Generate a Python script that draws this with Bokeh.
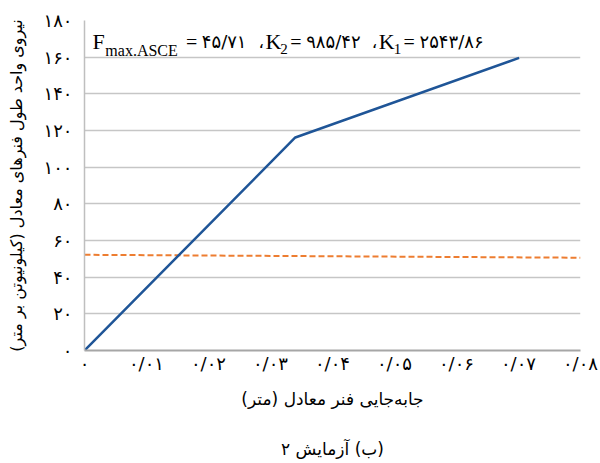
from bokeh.plotting import figure
from bokeh.models import FixedTicker, Label, Range1d
from bokeh.embed import file_html
from bokeh.resources import INLINE

# ---- data ----
disp = [0.0, 0.0340, 0.0701]          # equivalent spring displacement (m)
force = [0.0, 116.2, 159.6]           # force per unit length (kN/m)
fmax_disp = [0.0, 0.08]
fmax_force = [52.2, 50.6]

x_ticks = [0.0, 0.01, 0.02, 0.03, 0.04, 0.05, 0.06, 0.07, 0.08]
x_tick_labels = ["۰", "۰/۰۱", "۰/۰۲", "۰/۰۳", "۰/۰۴", "۰/۰۵", "۰/۰۶", "۰/۰۷", "۰/۰۸"]
y_ticks = [0, 20, 40, 60, 80, 100, 120, 140, 160, 180]
y_tick_labels = ["۰", "۲۰", "۴۰", "۶۰", "۸۰", "۱۰۰", "۱۲۰", "۱۴۰", "۱۶۰", "۱۸۰"]

RLE, PDF = "\u202B", "\u202C"
x_title = RLE + "جابه\u200cجایی فنر معادل (متر)" + PDF
y_title = RLE + "نیروی واحد طول فنرهای معادل (کیلونیوتن بر متر)" + PDF
caption = RLE + "(ب) آزمایش ۲" + PDF

FA = "DejaVu Sans"
SERIF = "Liberation Serif"

p = figure(width=598, height=461, x_range=Range1d(0, 0.08), y_range=Range1d(0, 180),
           output_backend="svg", toolbar_location=None,
           min_border_left=84, min_border_right=18, min_border_top=20, min_border_bottom=111)
p.outline_line_color = None
p.background_fill_color = "white"
p.border_fill_color = "white"

p.xaxis.ticker = FixedTicker(ticks=x_ticks)
p.yaxis.ticker = FixedTicker(ticks=y_ticks)
p.xaxis.major_label_overrides = {t: l for t, l in zip(x_ticks, x_tick_labels)}
p.yaxis.major_label_overrides = {t: l for t, l in zip(y_ticks, y_tick_labels)}

for ax in (p.xaxis[0], p.yaxis[0]):
    ax.major_tick_line_color = None
    ax.minor_tick_line_color = None
    ax.major_label_text_font = FA
    ax.major_label_text_font_size = "18px"
    ax.major_label_text_color = "black"
    ax.axis_label_text_font = FA
    ax.axis_label_text_font_style = "normal"
    ax.axis_label_text_color = "black"

p.xaxis.axis_line_color = "#a6a6a6"
p.xaxis.axis_line_width = 2
p.yaxis.axis_line_color = "#bfbfbf"
p.yaxis.axis_line_width = 1.5
p.xaxis.major_label_standoff = -4
p.yaxis.major_label_standoff = 6
# x title and the figure caption (two lines apart) share the bottom axis label
p.xaxis.axis_label = x_title + "\n\n" + caption
p.yaxis.axis_label = y_title
p.xaxis.axis_label_text_font_size = "17px"
p.xaxis.axis_label_text_line_height = 1.25
p.yaxis.axis_label_text_font_size = "16px"
p.xaxis.axis_label_standoff = 12
p.yaxis.axis_label_standoff = 14

p.xgrid.grid_line_color = None
p.ygrid.grid_line_color = "#c6c6c6"
p.ygrid.grid_line_width = 1.5

p.line(fmax_disp, fmax_force, line_color="#ED7D31", line_width=2, line_dash="6 3")
p.line(disp, force, line_color="#1f5597", line_width=2.5)

# annotation positions in reference-frame pixels converted to data
def rx(px):
    return (px - 84) / (583 - 84) * 0.08

def ry(py):
    return (350 - py) / (350 - 20) * 180

pieces = [
    ("F", 92, 41, SERIF, "22px", "normal"),
    ("max.ASCE", 105, 50, SERIF, "16px", "normal"),
    ("=", 186, 41, SERIF, "20px", "normal"),
    ("۴۵/۷۱", 202, 41, FA, "18px", "normal"),
    ("،", 259, 41, FA, "17px", "normal"),
    ("K", 266, 41, SERIF, "22px", "normal"),
    ("2", 281, 48, SERIF, "15px", "normal"),
    ("=", 291, 41, SERIF, "20px", "normal"),
    ("۹۸۵/۴۲", 307, 41, FA, "18px", "normal"),
    ("،", 373, 41, FA, "17px", "normal"),
    ("K", 380, 41, SERIF, "22px", "normal"),
    ("1", 395, 48, SERIF, "15px", "normal"),
    ("=", 405, 41, SERIF, "20px", "normal"),
    ("۲۵۴۳/۸۶", 421, 41, FA, "18px", "normal"),
]
for txt, px, py, font, size, style in pieces:
    p.add_layout(Label(x=rx(px), y=ry(py), text=txt, text_font=font, text_font_size=size,
                       text_font_style=style, text_align="left", text_baseline="alphabetic",
                       text_color="black"))

open("out.html", "w").write(file_html(p, INLINE))
